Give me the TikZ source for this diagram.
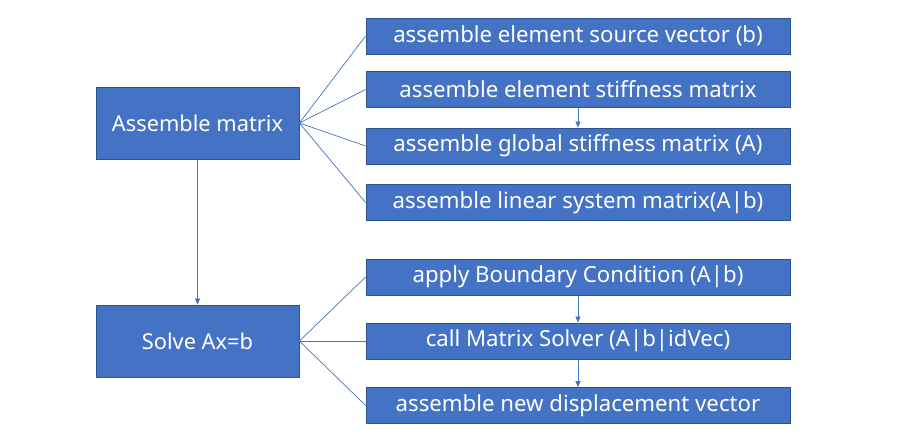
\documentclass[tikz,border=0pt]{standalone}
\usepackage{fontspec}
\setmainfont{Noto Sans}
\usetikzlibrary{arrows.meta}
\definecolor{boxblue}{HTML}{4472C4}
\definecolor{edgeblue}{HTML}{2F528F}
\begin{document}
\begin{tikzpicture}[x=1pt,y=-1pt,
    bigbox/.style={draw=edgeblue,fill=boxblue,text=white,line width=0.8pt,
      minimum width=203pt,minimum height=72pt,inner sep=0pt,font=\fontsize{21.8}{26}\selectfont},
    subbox/.style={draw=edgeblue,fill=boxblue,text=white,line width=0.8pt,
      minimum width=424pt,minimum height=36pt,inner sep=0pt,font=\fontsize{22.2}{26}\selectfont},
    link/.style={draw=boxblue,line width=0.7pt},
    next/.style={link,-{Triangle[length=6pt,width=5pt]}}]
  \useasboundingbox (0,0) rectangle (911,442);
  % left column
  \node[bigbox] (assemble) at (197.5,123) {Assemble matrix};
  \node[bigbox] (solve) at (197.5,341) {Solve Ax=b};
  % right column
  \node[subbox] (source) at (578,36) {assemble element source vector (b)};
  \node[subbox] (elemstiff) at (578,89.5) {assemble element stiffness matrix};
  \node[subbox] (globstiff) at (578,146) {assemble global stiffness matrix (A)};
  \node[subbox] (linsys) at (578,202.5) {assemble linear system matrix(A|b)};
  \node[subbox] (boundary) at (578,277) {apply Boundary Condition (A|b)};
  \node[subbox] (solver) at (578,341) {call Matrix Solver (A|b|idVec)};
  \node[subbox] (displace) at (578,405.5) {assemble new displacement vector};
  % fan out
  \foreach \b in {source,elemstiff,globstiff,linsys}
    \draw[link] (assemble.east) -- (\b.west);
  \foreach \b in {boundary,solver,displace}
    \draw[link] (solve.east) -- (\b.west);
  % arrows
  \draw[next] (assemble.south) -- (solve.north);
  \draw[next] (elemstiff.south) -- (globstiff.north);
  \draw[next] (boundary.south) -- (solver.north);
  \draw[next] (solver.south) -- (displace.north);
\end{tikzpicture}
\end{document}
